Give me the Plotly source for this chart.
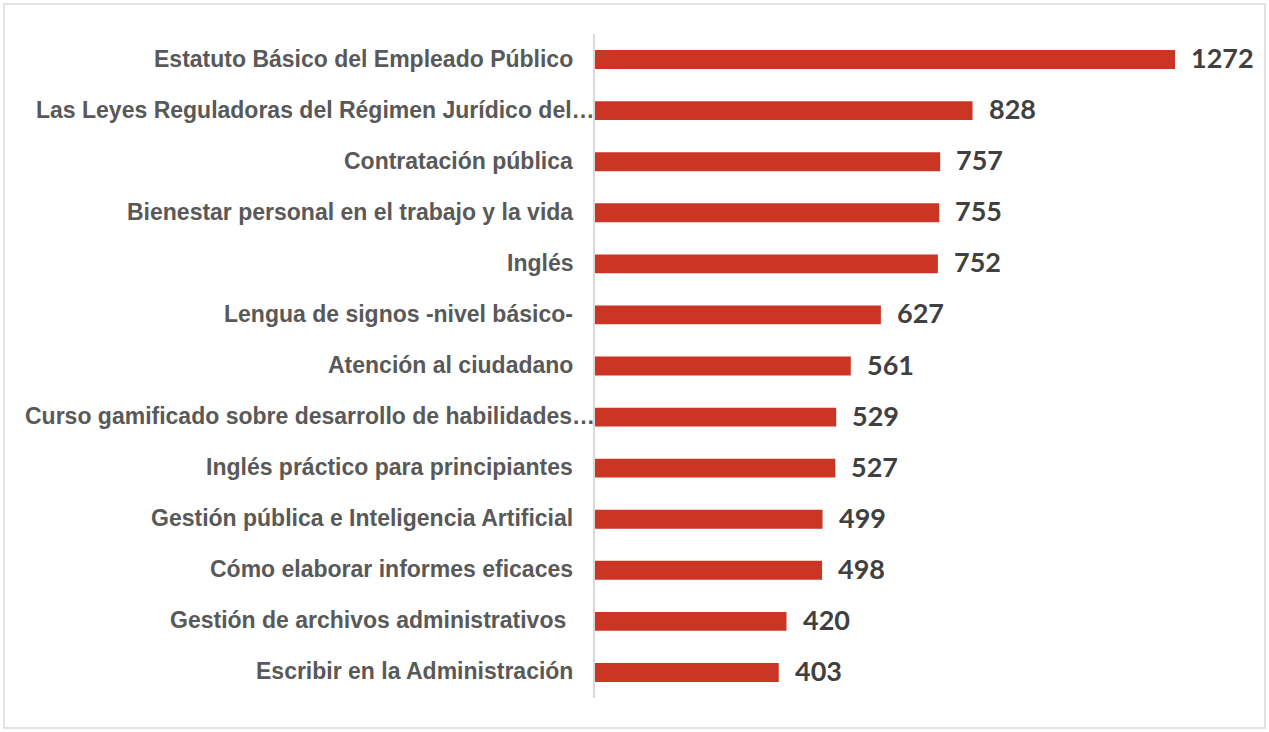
import plotly.graph_objects as go

categories = [
    "Estatuto Básico del Empleado Público",
    "Las Leyes Reguladoras del Régimen Jurídico del…",
    "Contratación pública",
    "Bienestar personal en el trabajo y la vida",
    "Inglés",
    "Lengua de signos -nivel básico-",
    "Atención al ciudadano",
    "Curso gamificado sobre desarrollo de habilidades…",
    "Inglés práctico para principiantes",
    "Gestión pública e Inteligencia Artificial",
    "Cómo elaborar informes eficaces",
    "Gestión de archivos administrativos\u00a0",
    "Escribir en la Administración",
]
values = [1272, 828, 757, 755, 752, 627, 561, 529, 527, 499, 498, 420, 403]

W, H = 1269, 732
L, R, T, B = 595, 36, 34, 34
plot_w = W - L - R
scale = (1175 - 595) / 1272.0
xmax = plot_w / scale

fig = go.Figure()
fig.add_trace(go.Bar(
    x=values, y=categories, orientation="h",
    marker=dict(color="#CB3523", line=dict(width=0)),
    width=0.37, hoverinfo="x+y",
))

annotations = []
for c, v in zip(categories, values):
    annotations.append(dict(
        x=0, y=c, xref="x", yref="y", text=c, showarrow=False,
        xanchor="right", yanchor="middle",
        xshift=(2 if c.endswith("…") else -20), yshift=1,
        font=dict(family="Liberation Sans, Arial, sans-serif", size=23,
                  color="#595959", weight="bold"),
    ))
    annotations.append(dict(
        x=v, y=c, xref="x", yref="y", text=str(v), showarrow=False,
        xanchor="left", yanchor="middle", xshift=14, yshift=2,
        font=dict(family="Lato, sans-serif", size=27, color="#404040",
                  weight="bold"),
    ))

ph = H - T - B
def px_x(p):
    return (p - L) / plot_w
def px_y(p):
    return 1 - (p - T) / ph

fig.update_layout(
    width=W, height=H,
    margin=dict(l=L, r=R, t=T, b=B),
    paper_bgcolor="white", plot_bgcolor="white",
    showlegend=False,
    xaxis=dict(range=[0, xmax], showgrid=False, zeroline=False,
               showticklabels=False, showline=False, fixedrange=True),
    yaxis=dict(range=[12.5, -0.5], showgrid=False, zeroline=False,
               showticklabels=False, showline=True, linecolor="#D9D9D9",
               linewidth=1.5, ticks="", fixedrange=True),
    annotations=annotations,
    shapes=[dict(type="rect", xref="paper", yref="paper",
                 x0=px_x(4), x1=px_x(1265), y0=px_y(728), y1=px_y(4),
                 line=dict(color="#D9D9D9", width=1.5), layer="below")],
)

fig.write_html("out.html", config={"displayModeBar": False},
               post_script="document.body.style.margin='0';document.body.style.padding='0';")
